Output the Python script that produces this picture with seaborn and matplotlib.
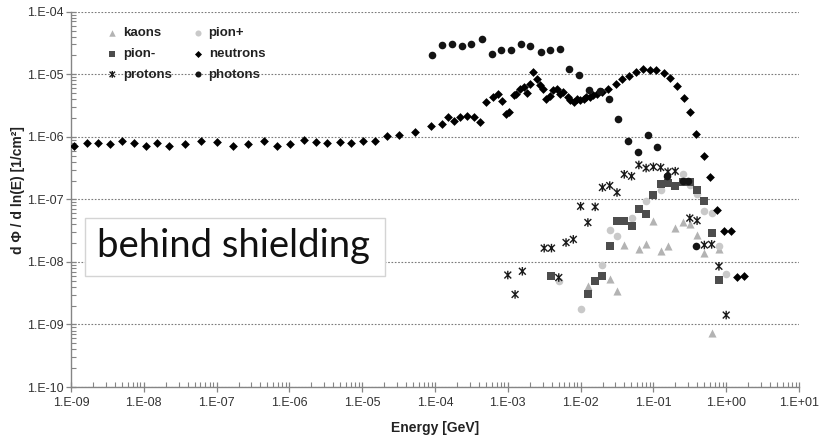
import numpy as np
import matplotlib
matplotlib.use("Agg")
import matplotlib.pyplot as plt
from matplotlib.path import Path
from matplotlib.patches import Rectangle
from matplotlib.ticker import FixedLocator, FuncFormatter, NullFormatter
import seaborn as sns

# ---- data (log10 of energy [GeV] and of flux [1/cm^2]) ----
neutron_log_e = [-8.96, -8.78, -8.63, -8.47, -8.30, -8.14, -7.97, -7.82, -7.65, -7.44,
                 -7.22, -7.00, -6.78, -6.57, -6.35, -6.17, -5.99, -5.80, -5.64, -5.48,
                 -5.31, -5.15, -4.99, -4.82, -4.66, -4.50, -4.28, -4.06, -3.91, -3.82,
                 -3.74, -3.65, -3.56, -3.47, -3.38, -3.30, -3.21, -3.13, -3.08, -3.03,
                 -2.99, -2.92, -2.89, -2.83, -2.78, -2.73, -2.69, -2.65, -2.60, -2.56,
                 -2.51, -2.47, -2.42, -2.38, -2.33, -2.28, -2.24, -2.17, -2.14, -2.09,
                 -2.05, -2.01, -1.96, -1.92, -1.87, -1.83, -1.78, -1.71, -1.62, -1.52,
                 -1.43, -1.33, -1.24, -1.14, -1.05, -0.96, -0.86, -0.77, -0.68, -0.58,
                 -0.50, -0.41, -0.31, -0.22, -0.13, -0.03, 0.07, 0.15, 0.25]
neutron_log_f = [-6.14, -6.10, -6.10, -6.12, -6.07, -6.10, -6.15, -6.10, -6.14, -6.12,
                 -6.07, -6.09, -6.14, -6.11, -6.07, -6.14, -6.12, -6.05, -6.09, -6.10,
                 -6.09, -6.10, -6.07, -6.06, -5.99, -5.97, -5.92, -5.82, -5.79, -5.69,
                 -5.74, -5.69, -5.66, -5.69, -5.76, -5.44, -5.37, -5.32, -5.43, -5.63,
                 -5.60, -5.33, -5.31, -5.24, -5.21, -5.30, -5.15, -4.96, -5.08, -5.17,
                 -5.23, -5.40, -5.35, -5.25, -5.23, -5.31, -5.28, -5.36, -5.41, -5.44,
                 -5.39, -5.41, -5.40, -5.37, -5.36, -5.33, -5.31, -5.29, -5.24, -5.15,
                 -5.08, -5.02, -4.97, -4.92, -4.93, -4.94, -4.98, -5.06, -5.18, -5.38,
                 -5.61, -5.95, -6.30, -6.64, -7.17, -7.51, -7.51, -8.24, -8.22]

photon_log_e = [-4.04, -3.90, -3.76, -3.63, -3.50, -3.36, -3.22, -3.09, -2.96, -2.82,
                -2.69, -2.55, -2.42, -2.28, -2.16, -2.02, -1.88, -1.74, -1.61, -1.48,
                -1.35, -1.21, -1.08, -0.95, -0.81, -0.59, -0.53, -0.41]
photon_log_f = [-4.69, -4.53, -4.51, -4.55, -4.52, -4.43, -4.67, -4.62, -4.61, -4.52,
                -4.55, -4.65, -4.61, -4.60, -4.92, -5.01, -5.25, -5.26, -5.39, -5.72,
                -6.07, -6.24, -5.97, -6.16, -6.62, -6.71, -6.71, -7.74]

proton_log_e = [-3.0, -2.9, -2.8, -2.5, -2.4, -2.3, -2.2, -2.1, -2.0, -1.9,
                -1.8, -1.7, -1.6, -1.5, -1.4, -1.3, -1.2, -1.1, -1.0, -0.9,
                -0.8, -0.7, -0.5, -0.4, -0.3, -0.2, -0.1, 0.0]
proton_log_f = [-8.21, -8.52, -8.15, -7.78, -7.78, -8.25, -7.69, -7.64, -7.11, -7.37,
                -7.12, -6.81, -6.78, -6.89, -6.60, -6.63, -6.45, -6.50, -6.48, -6.49,
                -6.56, -6.55, -7.30, -7.34, -7.73, -7.72, -8.07, -8.85]

pionm_log_e = [-2.4, -1.9, -1.8, -1.7, -1.6, -1.5, -1.4, -1.3, -1.2, -1.1,
               -1.0, -0.9, -0.8, -0.7, -0.6, -0.5, -0.4, -0.3, -0.2, -0.1]
pionm_log_f = [-8.23, -8.52, -8.31, -8.22, -7.74, -7.34, -7.34, -7.42, -7.16, -7.24,
               -6.93, -6.76, -6.74, -6.78, -6.72, -6.72, -6.85, -7.02, -7.53, -8.29]

pionp_log_e = [-2.3, -2.0, -1.7, -1.6, -1.5, -1.3, -1.1, -0.9, -0.6, -0.5,
               -0.4, -0.3, -0.2, -0.1, 0.0]
pionp_log_f = [-8.31, -8.75, -8.05, -7.49, -7.58, -7.30, -7.02, -6.85, -6.60, -6.77,
               -6.92, -7.18, -7.22, -7.75, -8.20]

kaon_log_e = [-1.9, -1.6, -1.5, -1.4, -1.2, -1.1, -1.0, -0.9, -0.8, -0.7,
              -0.6, -0.5, -0.4, -0.3, -0.2, -0.1]
kaon_log_f = [-8.38, -8.28, -8.47, -7.73, -7.80, -7.72, -7.34, -7.83, -7.74, -7.46,
              -7.37, -7.40, -7.57, -7.85, -9.13, -7.80]

x_tick_exps = list(range(-9, 2))
y_tick_exps = list(range(-10, -3))

# ---- styling ----
sns.set_theme(style="white")
plt.rcParams['font.family'] = ['Liberation Sans', 'DejaVu Sans']

W, H = 823, 441
fig = plt.figure(figsize=(W / 100, H / 100), dpi=100)
ax_l, ax_r, ax_t, ax_b = 71, 799, 11.7, 387
ax = fig.add_axes([ax_l / W, 1 - ax_b / H, (ax_r - ax_l) / W, (ax_b - ax_t) / H])

star = Path([(-1, -1), (1, 1), (-1, 1), (1, -1), (0, -1.25), (0, 1.25)],
            [Path.MOVETO, Path.LINETO, Path.MOVETO, Path.LINETO, Path.MOVETO, Path.LINETO])

series = [
    ("kaons", kaon_log_e, kaon_log_f, "^", "#b3b3b3", 34),
    ("pion+", pionp_log_e, pionp_log_f, "o", "#c9c9c9", 30),
    ("pion-", pionm_log_e, pionm_log_f, "s", "#4d4d4d", 28),
    ("neutrons", neutron_log_e, neutron_log_f, "D", "#000000", 20),
    ("protons", proton_log_e, proton_log_f, star, "#1a1a1a", 38),
    ("photons", photon_log_e, photon_log_f, "o", "#141414", 30),
]

handles = {}
for i, (name, le, lf, mk, col, size) in enumerate(series):
    x = 10 ** np.asarray(le, dtype=float)
    y = 10 ** np.asarray(lf, dtype=float)
    if mk is star:
        sns.scatterplot(x=x, y=y, ax=ax, marker=mk, s=size, facecolor="none",
                        edgecolor=col, linewidth=1.0, legend=False, zorder=3 + i)
    else:
        sns.scatterplot(x=x, y=y, ax=ax, marker=mk, s=size, color=col,
                        linewidth=0, legend=False, zorder=3 + i)
    coll = ax.collections[-1]
    coll.set_label(name)
    handles[name] = coll

ax.set_xscale("log")
ax.set_yscale("log")
ax.set_xlim(10.0 ** x_tick_exps[0], 10.0 ** x_tick_exps[-1])
ax.set_ylim(10.0 ** y_tick_exps[0], 10.0 ** y_tick_exps[-1])

def minor_positions(exps):
    return [m * 10.0 ** e for e in exps[:-1] for m in range(2, 10)]

fmt = FuncFormatter(lambda v, p: "1.E{:+03d}".format(int(round(np.log10(v)))))
ax.xaxis.set_major_locator(FixedLocator([10.0 ** e for e in x_tick_exps]))
ax.yaxis.set_major_locator(FixedLocator([10.0 ** e for e in y_tick_exps]))
ax.xaxis.set_minor_locator(FixedLocator(minor_positions(x_tick_exps)))
ax.yaxis.set_minor_locator(FixedLocator(minor_positions(y_tick_exps)))
ax.xaxis.set_major_formatter(fmt)
ax.yaxis.set_major_formatter(fmt)
ax.xaxis.set_minor_formatter(NullFormatter())
ax.yaxis.set_minor_formatter(NullFormatter())

gc = "#858585"
ax.tick_params(which="major", direction="inout", length=7, width=0.9, color=gc,
               labelsize=9, labelcolor="#333333")
ax.tick_params(which="minor", direction="in", length=3.5, width=0.8, color=gc)
ax.tick_params(axis="x", which="major", pad=4, bottom=True)
ax.tick_params(axis="y", which="major", pad=2, left=True)
ax.tick_params(axis="both", which="minor", bottom=True, left=True)

for s in ["top", "right"]:
    ax.spines[s].set_visible(False)
for s in ["left", "bottom"]:
    ax.spines[s].set_color(gc)
    ax.spines[s].set_linewidth(1.0)

ax.yaxis.grid(True, which="major", linestyle=(0, (1.5, 1.5)), color="#7a7a7a", linewidth=0.8)
ax.xaxis.grid(False)
ax.set_axisbelow(True)

ax.set_xlabel("")
ax.set_ylabel("")
fig.text(435 / W, 1 - 428 / H, "Energy [GeV]", ha="center", va="center",
         fontsize=10, fontweight="bold", color="#222222")
fig.text(18 / W, 1 - 190 / H, "d \u03a6 / d ln(E) [1/cm\u00b2]", ha="center", va="center",
         rotation=90, fontsize=10, fontweight="bold", color="#222222")

order = ["kaons", "pion-", "protons", "pion+", "neutrons", "photons"]
leg = ax.legend([handles[n] for n in order], order, ncol=2, frameon=False,
                loc="upper left", bbox_to_anchor=(107 / W, 1 - 27 / H),
                bbox_transform=fig.transFigure, borderpad=0, borderaxespad=0,
                handlelength=0.8, handletextpad=0.4, columnspacing=1.6,
                labelspacing=0.65, markerscale=0.8,
                prop={"weight": "bold", "size": 9.5})
for t in leg.get_texts():
    t.set_color("#222222")

rect = Rectangle((85 / W, 1 - 276 / H), 300 / W, 58 / H, transform=fig.transFigure,
                 facecolor="white", edgecolor="#d4d4d4", linewidth=1.0, zorder=20)
fig.add_artist(rect)
fig.text(97 / W, 1 - 246 / H, "behind shielding", ha="left", va="center",
         fontsize=27.5, family=["Lato", "DejaVu Sans"], color="#111111", zorder=21)

fig.savefig("out.png", dpi=100)
